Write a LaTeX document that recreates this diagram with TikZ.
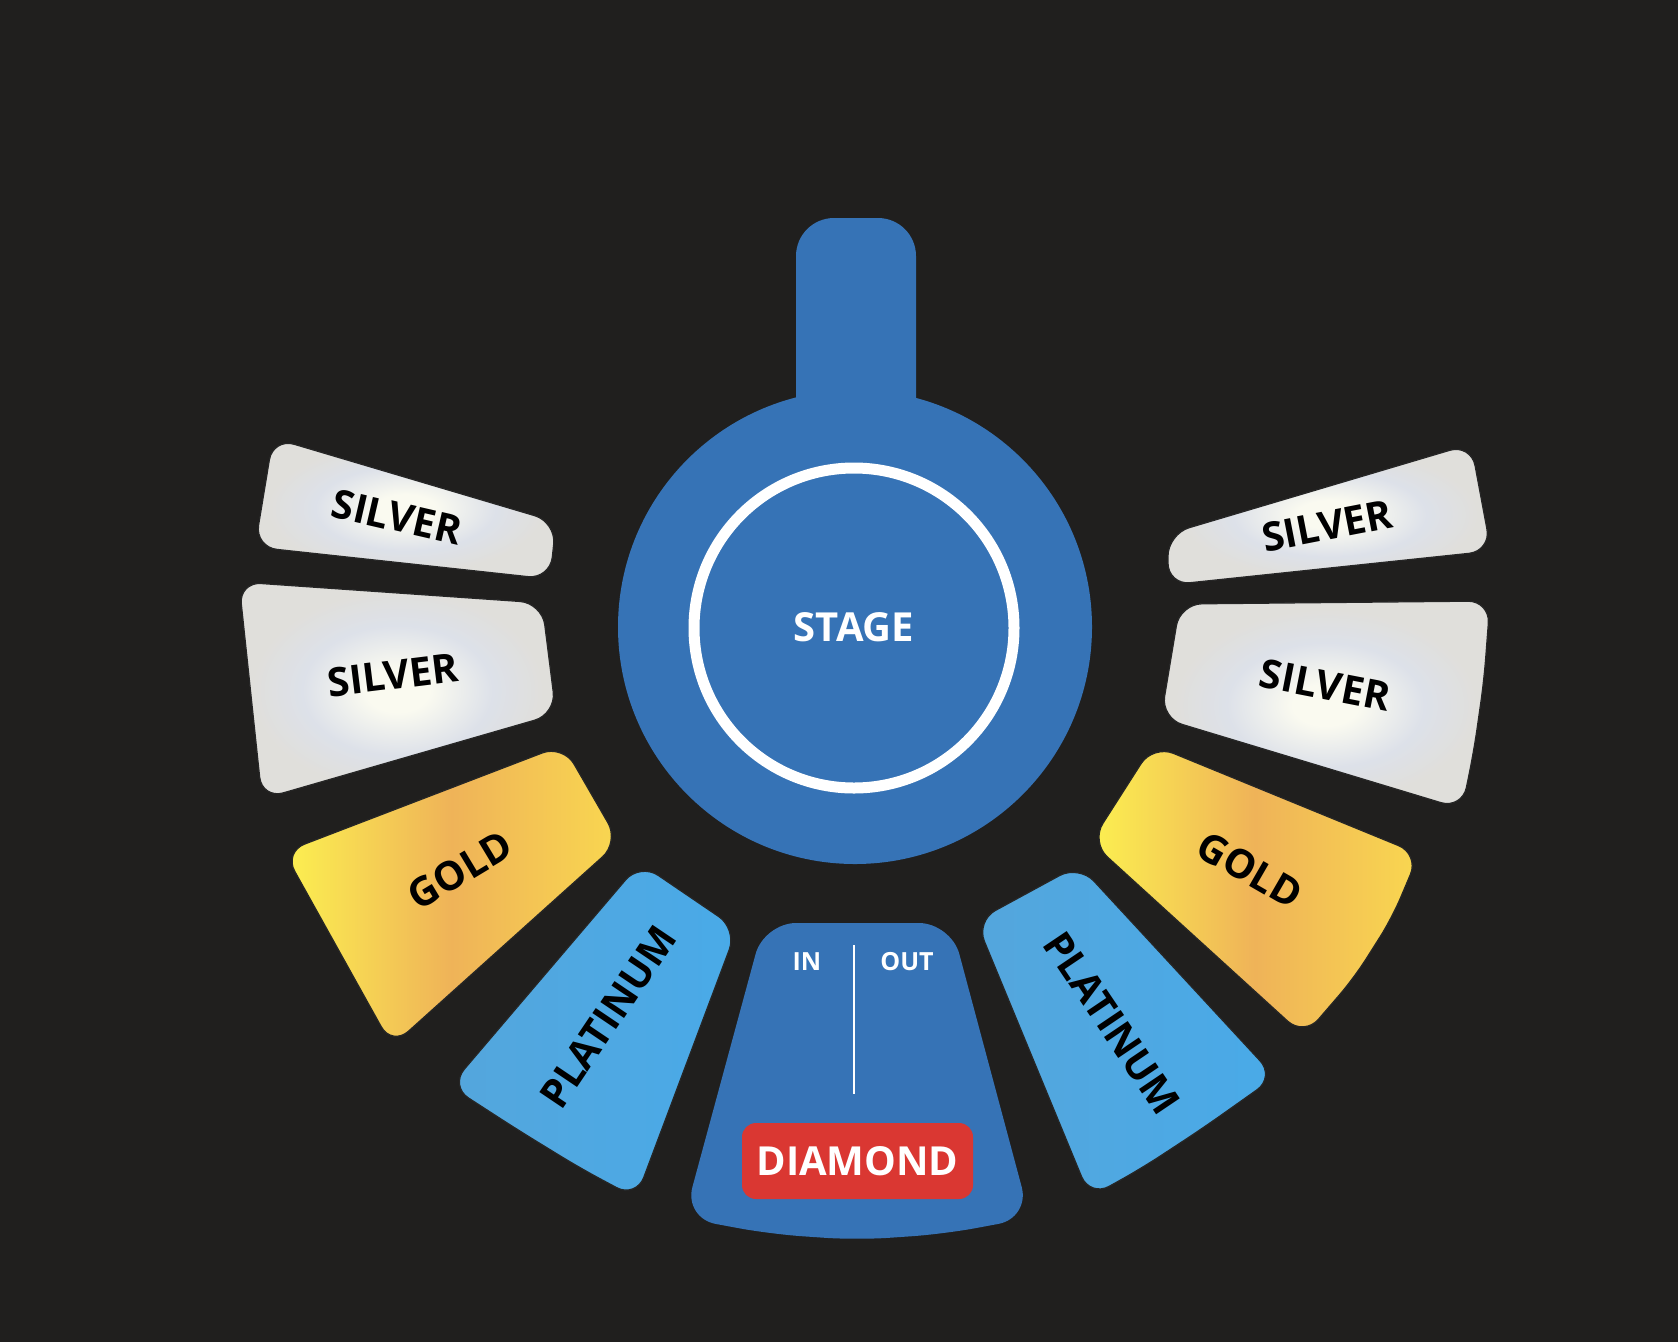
\documentclass[tikz,border=0pt]{standalone}
\usepackage{fontspec}
\setmainfont{Open Sans}
\usepackage{xcolor}

\definecolor{bgdark}{RGB}{32,31,30}
\definecolor{stageblue}{RGB}{54,115,182}
\definecolor{tagred}{RGB}{218,55,50}
\definecolor{goldA}{RGB}{252,240,80}
\definecolor{goldB}{RGB}{239,179,88}
\definecolor{goldC}{RGB}{249,215,80}
\definecolor{platA}{RGB}{84,166,220}
\definecolor{platB}{RGB}{73,170,232}
\definecolor{silverA}{RGB}{224,223,219}
\definecolor{silverB}{RGB}{221,225,233}
\definecolor{silverC}{RGB}{250,250,240}

\pgfdeclareradialshading{silverglow}{\pgfpoint{0bp}{0bp}}{color(0bp)=(silverC); color(5bp)=(silverC); color(15bp)=(silverB); color(23bp)=(silverA); color(50bp)=(silverA)}

\begin{document}
\begin{tikzpicture}[
    x=1pt, y=-1pt,
    section/.style={draw=black!85, line width=1.2pt, rounded corners=22pt},
    silverzone/.style={section, shading=silverglow},
    goldzone/.style={section, left color=goldA, right color=goldC, middle color=goldB},
    platzone/.style={section, left color=platA, right color=platB},
    diamondzone/.style={fill=stageblue, rounded corners=32pt},
    seattext/.style={font=\bfseries\fontsize{40pt}{40pt}\selectfont, text=black, inner sep=0pt},
    stagetext/.style={seattext, text=white},
    gatetext/.style={font=\bfseries\fontsize{25pt}{25pt}\selectfont, text=white, inner sep=0pt},
    diamondtag/.style={fill=tagred, rounded corners=14pt, minimum width=231pt, minimum height=76pt, text=white, font=\bfseries\fontsize{40pt}{40pt}\selectfont}
]

% background
\fill[bgdark] (0,0) rectangle (1678,1342);

% stage with runway
\fill[stageblue, rounded corners=38pt] (796,627) -- (796,218) -- (916,218) -- (916,627) -- cycle;
\fill[stageblue] (855,627) circle (237);
\draw[white, line width=11pt] (854,628) circle (160);
\node[stagetext] (stage) at (854,627) {STAGE};

% silver sections
\path[silverzone] (273,438) -- (556,522) -- (550,579) -- (255,547) -- cycle;
\path[silverzone] (239,582) -- (542,603) -- (556,714) -- (262,799) -- cycle;
\path[silverzone] (1168,534) -- (1471,444) -- (1491,551) -- (1168,585) -- cycle;
\path[silverzone] (1180,604) -- (1490,601) -- (1484,680) -- (1474,750) -- (1462,809) -- (1161,718) -- cycle;

% gold sections
\path[goldzone] (284,852) -- (563,745) -- (619,842) -- (392,1046) -- cycle;
\path[goldzone] (1091,842) -- (1153,745) -- (1419,854) -- (1392,918) -- (1354,978) -- (1304,1036) -- cycle;

% platinum sections
\path[platzone] (640,863) -- (737,929) -- (636,1198) -- (580,1168) -- (518,1130) -- (450,1086) -- cycle;
\path[platzone] (1079,865) -- (1275,1077) -- (1203,1128) -- (1142,1168) -- (1090,1197) -- (976,921) -- cycle;

% diamond section
\path[diamondzone] (764,923) -- (951,923) -- (1030,1218) -- (944,1234) -- (857,1240) -- (770,1234) -- (684,1218) -- cycle;
\draw[white, line width=2.5pt] (854,945) -- (854,1094);
\node[gatetext] (in) at (807,962) {IN};
\node[gatetext] (out) at (907,962) {OUT};
\node[diamondtag] (diamond) at (857.5,1161) {DIAMOND};

% section names
\node[seattext, rotate=-13] (silverL1) at (397,517) {SILVER};
\node[seattext, rotate=7] (silverL2) at (393,675) {SILVER};
\node[seattext, rotate=11] (silverR1) at (1327,526) {SILVER};
\node[seattext, rotate=-11] (silverR2) at (1325,685) {SILVER};
\node[seattext, rotate=31] (goldL) at (460,870) {GOLD};
\node[seattext, rotate=-30] (goldR) at (1250,870) {GOLD};
\node[seattext, rotate=56] (platL) at (608,1017) {PLATINUM};
\node[seattext, rotate=-56] (platR) at (1112,1023) {PLATINUM};

\end{tikzpicture}
\end{document}
